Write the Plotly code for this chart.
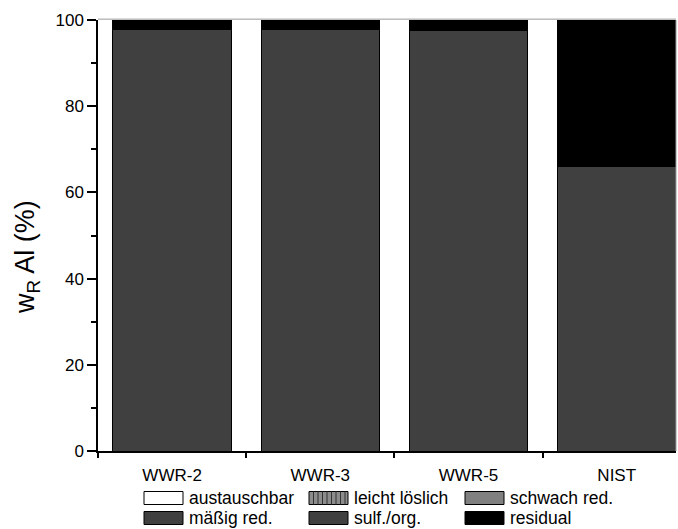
import plotly.graph_objects as go

# ---- data ----
samples = ["WWR-2", "WWR-3", "WWR-5", "NIST"]
fraction_names = ["austauschbar", "leicht löslich", "schwach red.",
                  "mäßig red.", "sulf./org.", "residual"]
austauschbar = [0.0, 0.0, 0.0, 0.0]
leicht_loeslich = [0.0, 0.0, 0.0, 0.0]
schwach_red = [0.0, 0.0, 0.0, 0.0]
maessig_red = [0.0, 0.0, 0.0, 0.0]
sulf_org = [97.9, 97.7, 97.5, 66.0]
residual = [2.1, 2.3, 2.5, 34.0]
y_ticks = [0, 20, 40, 60, 80, 100]

series = [austauschbar, leicht_loeslich, schwach_red, maessig_red, sulf_org, residual]
fills = ["#ffffff", "#8c8c8c", "#808080", "#404040", "#404040", "#000000"]

W, H = 678, 529
L, R, T, B = 98, 2, 20, 78
PW, PH = W - L - R, H - T - B
FONT = "Liberation Sans, Arial, sans-serif"

fig = go.Figure()
xpos = list(range(len(samples)))
for name, vals, col in zip(fraction_names, series, fills):
    kw = {}
    if name == "leicht löslich":
        kw = dict(pattern=dict(shape="|", fgcolor="#333333", size=5, solidity=0.3))
    fig.add_trace(go.Bar(
        x=xpos, y=vals, name=name, width=0.8, showlegend=False,
        marker=dict(color=col, line=dict(color="#000000", width=1), **kw),
    ))

fig.update_layout(
    barmode="stack",
    width=W, height=H,
    margin=dict(l=L, r=R, t=T, b=B, autoexpand=False),
    paper_bgcolor="white", plot_bgcolor="white",
    font=dict(family=FONT, size=17, color="black"),
    showlegend=False,
    xaxis=dict(
        range=[-0.5, 3.4],
        tickmode="array", tickvals=xpos, ticktext=samples,
        ticks="outside", ticklen=8, tickcolor="rgba(0,0,0,0)",
        showline=True, linecolor="black", linewidth=1.5,
        showgrid=False, zeroline=False,
        minor=dict(tick0=0.5, dtick=1, ticks="outside", ticklen=5,
                   tickcolor="black", tickwidth=1.5, showgrid=False),
        tickfont=dict(size=17),
    ),
    yaxis=dict(
        range=[0, 100],
        tickmode="array", tickvals=y_ticks,
        ticks="outside", ticklen=9, tickwidth=1.5, tickcolor="black",
        showline=True, linecolor="black", linewidth=1.5,
        showgrid=False, zeroline=False,
        minor=dict(dtick=10, tick0=0, ticks="outside", ticklen=5,
                   tickcolor="black", tickwidth=1.5, showgrid=False),
        tickfont=dict(size=17),
    ),
)

def px_x(px):
    return (px - L) / PW

def px_y(py):
    return (H - B - py) / PH

shapes = []
annotations = []
# frame (top / right), thin grey
shapes.append(dict(type="line", xref="paper", yref="paper", x0=0, x1=1, y0=1.002, y1=1.002,
                   line=dict(color="#9a9a9a", width=1)))
shapes.append(dict(type="line", xref="paper", yref="paper", x0=1, x1=1, y0=0, y1=1,
                   line=dict(color="#9a9a9a", width=1)))

# y-axis title
annotations.append(dict(
    text="w<sub>R</sub> Al (%)", xref="paper", yref="paper",
    x=px_x(27), y=px_y(257), textangle=-90, showarrow=False,
    font=dict(size=27, family=FONT), xanchor="center", yanchor="middle",
))

# manual legend (2 rows x 3 columns)
col_x = [144, 309, 465]
row_y = [498, 518]
sw_w, sw_h = 39, 13
for i, (name, col) in enumerate(zip(fraction_names, fills)):
    r, c = divmod(i, 3)
    x0, yc = col_x[c], row_y[r]
    shapes.append(dict(type="rect", xref="paper", yref="paper",
                       x0=px_x(x0), x1=px_x(x0 + sw_w),
                       y0=px_y(yc + sw_h / 2), y1=px_y(yc - sw_h / 2),
                       fillcolor=col, line=dict(color="black", width=1)))
    if name == "leicht löslich":
        xx = x0 + 4.5
        while xx < x0 + sw_w - 1:
            shapes.append(dict(type="line", xref="paper", yref="paper",
                               x0=px_x(xx), x1=px_x(xx),
                               y0=px_y(yc + sw_h / 2), y1=px_y(yc - sw_h / 2),
                               line=dict(color="#333333", width=1)))
            xx += 4.5
    annotations.append(dict(text=name, xref="paper", yref="paper",
                            x=px_x(x0 + sw_w + 4), y=px_y(yc),
                            xanchor="left", yanchor="middle", showarrow=False,
                            font=dict(size=17.5, family=FONT)))

fig.update_layout(shapes=shapes, annotations=annotations)
fig.write_html(
    "out.html",
    config={"displayModeBar": False},
    post_script="document.body.style.margin='0';document.body.style.overflow='hidden';",
)
